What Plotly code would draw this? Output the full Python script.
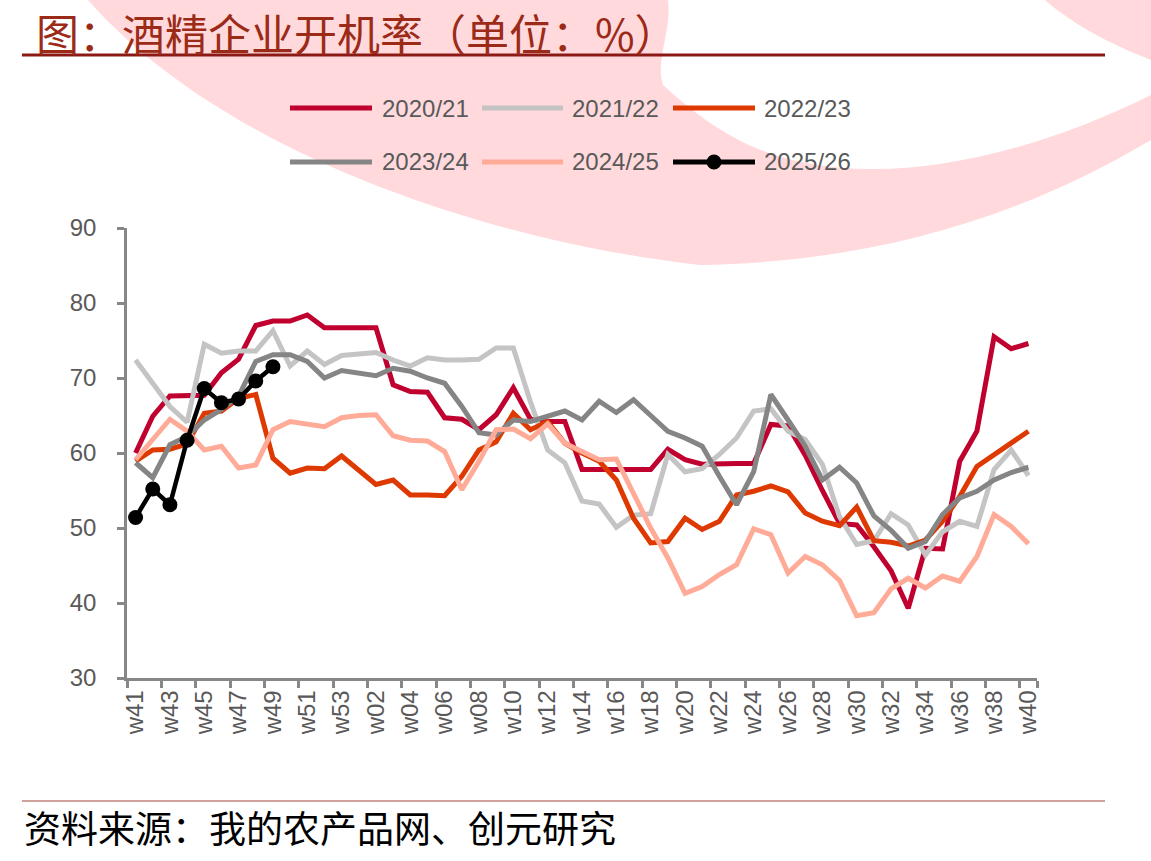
import plotly.graph_objects as go

weeks = ["w41", "w42", "w43", "w44", "w45", "w46", "w47", "w48", "w49", "w50",
         "w51", "w52", "w53", "w01", "w02", "w03", "w04", "w05", "w06", "w07",
         "w08", "w09", "w10", "w11", "w12", "w13", "w14", "w15", "w16", "w17",
         "w18", "w19", "w20", "w21", "w22", "w23", "w24", "w25", "w26", "w27",
         "w28", "w29", "w30", "w31", "w32", "w33", "w34", "w35", "w36", "w37",
         "w38", "w39", "w40"]

s2020 = [60.0, 64.9, 67.6, 67.7, 67.7, 70.7, 72.5, 77.0, 77.6, 77.6,
         78.4, 76.7, 76.7, 76.7, 76.7, 69.1, 68.2, 68.1, 64.7, 64.5,
         63.1, 65.1, 68.7, 64.5, 64.2, 64.2, 57.8, 57.8, 57.8, 57.8,
         57.8, 60.5, 59.1, 58.5, 58.6, 58.6, 58.6, 63.8, 63.6, 59.7,
         55.0, 50.6, 50.4, 47.5, 44.3, 39.3, 47.3, 47.2, 58.9, 62.9,
         75.5, 73.9, 74.6]
s2021 = [72.4, 69.3, 66.2, 64.1, 74.5, 73.3, 73.6, 73.6, 76.3, 71.6,
         73.6, 71.8, 73.0, 73.2, 73.4, 72.4, 71.6, 72.7, 72.4, 72.4,
         72.5, 74.0, 74.0, 66.8, 60.4, 58.7, 53.6, 53.2, 50.1, 51.7,
         51.9, 59.8, 57.5, 57.9, 59.8, 62.0, 65.6, 65.9, 62.9, 61.8,
         58.5, 51.5, 47.8, 48.3, 51.9, 50.4, 46.4, 49.5, 50.9, 50.2,
         57.8, 60.4, 57.0]
s2022 = [58.9, 60.4, 60.5, 61.2, 65.3, 65.6, 67.3, 67.8, 59.3, 57.3,
         58.0, 57.9, 59.6, 57.8, 55.8, 56.4, 54.4, 54.4, 54.3, 56.9,
         60.4, 61.5, 65.3, 63.1, 64.2, 61.3, 60.0, 58.9, 56.4, 51.3,
         48.0, 48.2, 51.3, 49.8, 50.9, 54.4, 54.9, 55.6, 54.8, 52.0,
         50.9, 50.3, 52.8, 48.3, 48.1, 47.6, 48.4, 50.9, 54.2, 58.2,
         59.8, 61.3, 62.9]
s2023 = [58.7, 56.7, 61.1, 62.2, 64.4, 65.8, 67.6, 72.2, 73.1, 73.1,
         72.2, 70.0, 71.0, 70.6, 70.3, 71.3, 70.9, 70.0, 69.3, 66.2,
         62.7, 62.4, 64.4, 64.2, 64.9, 65.6, 64.4, 66.9, 65.4, 67.1,
         65.0, 62.9, 62.0, 60.9, 56.9, 53.1, 57.5, 67.8, 64.4, 60.9,
         56.4, 58.1, 56.0, 51.6, 49.7, 47.3, 48.2, 51.8, 54.0, 54.9,
         56.4, 57.4, 58.1]
s2024 = [59.1, 61.8, 64.5, 62.9, 60.4, 60.9, 58.0, 58.4, 63.1, 64.2,
         63.8, 63.5, 64.7, 65.0, 65.1, 62.3, 61.7, 61.6, 60.2, 55.1,
         58.9, 63.1, 63.2, 61.9, 63.9, 61.3, 60.2, 59.1, 59.2, 54.5,
         50.0, 46.0, 41.3, 42.2, 43.8, 45.1, 49.9, 49.1, 44.0, 46.2,
         45.1, 43.0, 38.3, 38.7, 41.9, 43.3, 42.0, 43.6, 42.9, 46.2,
         51.8, 50.2, 47.9]
s2025 = [51.4, 55.2, 53.1, 61.7, 68.6, 66.7, 67.2, 69.6, 71.5]

series = [
    ("2020/21", s2020, "#C0002F"),
    ("2021/22", s2021, "#C4C4C4"),
    ("2022/23", s2022, "#DE3900"),
    ("2023/24", s2023, "#858585"),
    ("2024/25", s2024, "#FFAB97"),
    ("2025/26", s2025, "#000000"),
]

W, H = 1151, 861
L, R, T, B = 127, 1037, 228, 678  # plot area in pixels


def px(x):
    return (x - L) / (R - L)


def py(y):
    return (B - y) / (B - T)


def path(points):
    parts = []
    for cmd, *coords in points:
        c = []
        for i in range(0, len(coords), 2):
            c.append(f"{px(coords[i]):.5f},{py(coords[i + 1]):.5f}")
        parts.append(cmd + " " + " ".join(c))
    return " ".join(parts) + " Z"


fig = go.Figure()

for name, vals, color in series:
    if name == "2025/26":
        fig.add_trace(go.Scatter(
            x=weeks[:len(vals)], y=vals, name=name, mode="lines+markers",
            line=dict(color=color, width=4.5),
            marker=dict(color=color, size=15),
            showlegend=False))
    else:
        fig.add_trace(go.Scatter(
            x=weeks[:len(vals)], y=vals, name=name, mode="lines",
            line=dict(color=color, width=5),
            showlegend=False))

shapes = []
pink = "#FFD9DC"
# decorative background swoosh
shapes.append(dict(type="path", xref="paper", yref="paper", layer="below",
                   line=dict(width=0), fillcolor=pink,
                   path=path([("M", 88, 0), ("L", 668, 0),
                              ("C", 672, 30, 655, 60, 663, 85),
                              ("C", 690, 110, 720, 132, 751, 146),
                              ("C", 850, 190, 1000, 170, 1151, 95),
                              ("L", 1151, 140),
                              ("C", 1000, 230, 850, 262, 700, 265),
                              ("C", 480, 240, 220, 150, 88, 0)])))
shapes.append(dict(type="path", xref="paper", yref="paper", layer="below",
                   line=dict(width=0), fillcolor=pink,
                   path=path([("M", 1045, 0), ("L", 1151, 0), ("L", 1151, 60),
                              ("C", 1105, 42, 1070, 22, 1045, 0)])))
# title underline
shapes.append(dict(type="line", xref="paper", yref="paper",
                   x0=px(22), x1=px(1105), y0=py(55), y1=py(55),
                   line=dict(color="#8B1A14", width=3)))
# source line
shapes.append(dict(type="line", xref="paper", yref="paper",
                   x0=px(22), x1=px(1105), y0=py(801), y1=py(801),
                   line=dict(color="#C08078", width=1.5)))

annotations = []
annotations.append(dict(text="图：酒精企业开机率（单位：%）", xref="paper", yref="paper",
                        x=px(34), y=py(32), xanchor="left", yanchor="middle",
                        showarrow=False,
                        font=dict(family="Noto Sans CJK SC", size=43, color="#9B2A17")))
annotations.append(dict(text="资料来源：我的农产品网、创元研究", xref="paper", yref="paper",
                        x=px(22), y=py(827), xanchor="left", yanchor="middle",
                        showarrow=False,
                        font=dict(family="Noto Sans CJK SC", size=37, color="#000000")))

# legend (two rows of three)
leg_cols = [(290, 372, 380), (482, 563, 570), (673, 755, 762)]
leg_rows = [108, 162]
for k, (name, vals, color) in enumerate(series):
    r, c = divmod(k, 3)
    x0, x1, xt = leg_cols[c]
    yy = leg_rows[r]
    shapes.append(dict(type="line", xref="paper", yref="paper",
                       x0=px(x0), x1=px(x1), y0=py(yy), y1=py(yy),
                       line=dict(color=color, width=5)))
    if name == "2025/26":
        cx = (x0 + x1) / 2
        shapes.append(dict(type="circle", xref="paper", yref="paper",
                           x0=px(cx - 7.5), x1=px(cx + 7.5),
                           y0=py(yy + 7.5), y1=py(yy - 7.5),
                           fillcolor=color, line=dict(width=0)))
    annotations.append(dict(text=name, xref="paper", yref="paper",
                            x=px(xt), y=py(yy), xanchor="left", yanchor="middle",
                            showarrow=False,
                            font=dict(family="Liberation Sans, Arial", size=24, color="#595959")))

fig.update_layout(
    width=W, height=H,
    margin=dict(l=L, r=W - R, t=T, b=H - B, pad=0),
    paper_bgcolor="white", plot_bgcolor="rgba(0,0,0,0)",
    shapes=shapes, annotations=annotations,
    showlegend=False,
    font=dict(family="Liberation Sans, Arial", size=24, color="#595959"),
)
fig.update_xaxes(
    type="category", categoryorder="array", categoryarray=weeks,
    range=[-0.5, len(weeks) - 0.5],
    tickmode="array", tickvals=weeks[::2], ticktext=weeks[::2],
    tickson="boundaries", tickangle=-90,
    ticks="outside", ticklen=7, tickwidth=2.5, tickcolor="#878787",
    showline=True, linecolor="#878787", linewidth=2.5,
    showgrid=False, zeroline=False,
    tickfont=dict(size=24, color="#595959"),
)
fig.update_yaxes(
    range=[30, 90], dtick=10, tick0=30,
    ticks="outside", ticklen=7, tickwidth=2.5, tickcolor="#878787",
    showline=True, linecolor="#878787", linewidth=2.5,
    showgrid=False, zeroline=False,
    ticklabelstandoff=16,
    tickfont=dict(size=24, color="#595959"),
)

fig.write_html("out.html")
